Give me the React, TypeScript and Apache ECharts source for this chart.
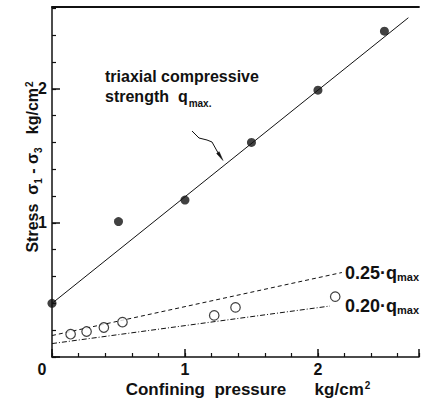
import React, { useEffect, useRef } from 'react';
import * as echarts from 'echarts';

// Triaxial compressive strength q_max (filled dots) vs confining pressure
const strengthPoints: [number, number][] = [
  [0, 0.4], [0.5, 1.01], [1.0, 1.17], [1.5, 1.6], [2.0, 1.99], [2.5, 2.43],
];
// Fitted strength line
const strengthLine: [number, number][] = [[0, 0.4], [2.68, 2.53]];
// Stress at small strain (open circles)
const lowStressPoints: [number, number][] = [
  [0.14, 0.17], [0.26, 0.19], [0.39, 0.22], [0.53, 0.26], [1.22, 0.31], [1.38, 0.37], [2.13, 0.45],
];
// 0.25·q_max and 0.20·q_max guide lines
const quarterLine: [number, number][] = [[0, 0.16], [2.18, 0.63]];
const fifthLine: [number, number][] = [[0, 0.1], [2.09, 0.38]];

const X_MAX = 2.76;
const Y_MAX = 2.61;

const INK = '#111';
const FONT = '"Liberation Sans", Arial, sans-serif';

const tok = (size: number, extra: Record<string, unknown> = {}) => ({
  fontSize: size, fontWeight: 'bold', fontFamily: FONT, fill: INK,
  lineHeight: size, verticalAlign: 'top', ...extra,
});

const yNameRich = {
  n: tok(16),
  s: tok(10, { padding: [9, 0, 0, 0] }),
  p: tok(10, { padding: [0, 0, 0, 1] }),
};

const xNameRich = {
  n: tok(17),
  p: tok(10, { padding: [0, 0, 0, 1] }),
};

const noteRich = {
  n: tok(16, { lineHeight: 20 }),
  s: tok(10, { padding: [10, 0, 0, 1] }),
};

const guideRich = {
  n: tok(18),
  s: tok(11, { padding: [7, 0, 0, 0] }),
};

const intLabel = (v: number) => (v !== 0 && Number.isInteger(v) ? String(v) : '');

function buildOption() {
  const axisCommon = {
    type: 'value' as const,
    splitLine: { show: false },
  };
  return {
    animation: false,
    backgroundColor: '#fff',
    grid: { left: 52, top: 7, width: 367, height: 350, outerBoundsMode: 'none' },
    xAxis: [
      {
        ...axisCommon, min: 0, max: X_MAX, interval: 1, position: 'bottom',
        axisLine: { show: true, onZero: false, lineStyle: { color: INK, width: 1.5 } },
        axisTick: { show: true, inside: true, length: 8, lineStyle: { color: INK, width: 1.5 } },
        axisLabel: {
          margin: 4, fontSize: 16, fontWeight: 'bold', color: INK, fontFamily: FONT,
          formatter: (v: number) => (v === 0 ? '{o|0}' : intLabel(v)),
          rich: { o: { fontSize: 16, fontWeight: 'bold', color: INK, fontFamily: FONT, padding: [0, 20, 0, 0] } },
        },
      },
      {
        ...axisCommon, min: 0, max: X_MAX, interval: 0.2, position: 'bottom',
        axisLine: { show: false, onZero: false },
        axisTick: { show: true, inside: true, length: 4, lineStyle: { color: INK, width: 1.2 } },
        axisLabel: { show: false },
      },
      {
        ...axisCommon, min: 0, max: X_MAX, position: 'top',
        axisLine: { show: true, onZero: false, lineStyle: { color: INK, width: 1.8 } },
        axisTick: { show: false },
        axisLabel: { show: false },
      },
    ],
    yAxis: [
      {
        ...axisCommon, min: 0, max: Y_MAX, interval: 1, position: 'left',
        axisLine: { show: true, onZero: false, lineStyle: { color: INK, width: 1.5 } },
        axisTick: { show: true, inside: true, length: 8, lineStyle: { color: INK, width: 1.5 } },
        axisLabel: {
          margin: 5, fontSize: 16, fontWeight: 'bold', color: INK, fontFamily: FONT,
          formatter: intLabel,
        },
      },
      {
        ...axisCommon, min: 0, max: Y_MAX, interval: 0.2, position: 'left',
        axisLine: { show: false, onZero: false },
        axisTick: { show: true, inside: true, length: 4, lineStyle: { color: INK, width: 1.2 } },
        axisLabel: { show: false },
      },
    ],
    series: [
      {
        type: 'line', data: strengthLine, symbol: 'none', z: 2,
        lineStyle: { color: INK, width: 1 },
      },
      {
        type: 'line', data: quarterLine, symbol: 'none', z: 2,
        lineStyle: { color: INK, width: 1, type: [4, 3] },
      },
      {
        type: 'line', data: fifthLine, symbol: 'none', z: 2,
        lineStyle: { color: INK, width: 1, type: [5, 2, 1, 2] },
      },
      {
        type: 'scatter', data: strengthPoints, symbol: 'circle', symbolSize: 9, z: 3,
        itemStyle: { color: INK },
      },
      {
        type: 'scatter', data: lowStressPoints, symbol: 'circle', symbolSize: 9.5, z: 3,
        itemStyle: { color: '#fff', borderColor: INK, borderWidth: 1.2 },
      },
    ],
    graphic: [
      {
        type: 'text', x: 32, y: 167, rotation: Math.PI / 2,
        style: {
          text: '{n|Stress  σ}{s|1}{n| - σ}{s|3}{n|   kg/cm}{p|2}',
          rich: yNameRich, align: 'center', verticalAlign: 'middle',
        },
      },
      {
        type: 'text', x: 248, y: 389,
        style: {
          text: '{n|Confining  pressure      kg/cm}{p|2}',
          rich: xNameRich, align: 'center', verticalAlign: 'middle',
        },
      },
      {
        type: 'text', x: 105, y: 68,
        style: {
          text: '{n|triaxial compressive}\n{n|strength  q}{s|max.}',
          rich: noteRich, align: 'left', verticalAlign: 'top',
        },
      },
      {
        type: 'polyline',
        shape: { points: [[192, 131], [199, 138], [207, 140], [212, 142], [217, 151], [220, 156]] },
        style: { stroke: INK, lineWidth: 1, fill: null },
      },
      {
        type: 'polygon',
        shape: { points: [[223, 160.5], [216.6, 153.5], [219.2, 151.7]] },
        style: { fill: INK, stroke: INK, lineWidth: 0.5 },
      },
      {
        type: 'text', x: 345, y: 273,
        style: { text: '{n|0.25·q}{s|max}', rich: guideRich, align: 'left', verticalAlign: 'middle' },
      },
      {
        type: 'text', x: 345, y: 306,
        style: { text: '{n|0.20·q}{s|max}', rich: guideRich, align: 'left', verticalAlign: 'middle' },
      },
    ],
  };
}

export default function App() {
  const ref = useRef<HTMLDivElement>(null);
  useEffect(() => {
    if (!ref.current) return;
    const chart = echarts.init(ref.current, null, { renderer: 'svg' });
    chart.setOption(buildOption() as any);
    return () => chart.dispose();
  }, []);
  return (
    <div
      ref={ref}
      style={{ position: 'fixed', left: 0, top: 0, width: 422, height: 404, background: '#fff' }}
    />
  );
}
